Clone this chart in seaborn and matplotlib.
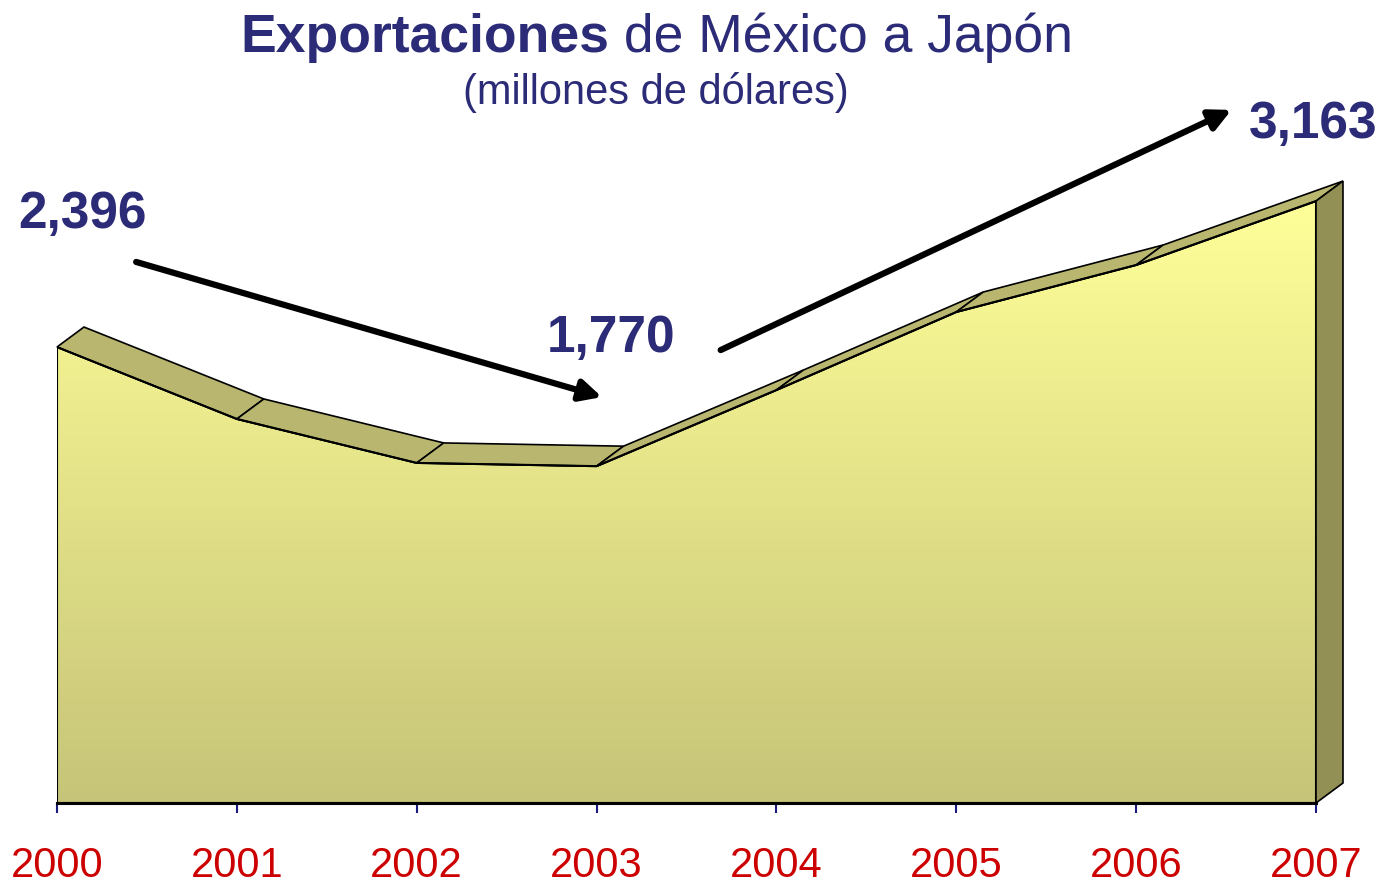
import numpy as np
import matplotlib
matplotlib.use("Agg")
import matplotlib.pyplot as plt
from matplotlib.patches import Polygon
from matplotlib.colors import LinearSegmentedColormap
import seaborn as sns

years = [2000, 2001, 2002, 2003, 2004, 2005, 2006, 2007]
exports = [2396, 2018, 1787, 1770, 2170, 2580, 2827, 3163]
year_labels = [str(y) for y in years]
labelled = {2000: "2,396", 2003: "1,770", 2007: "3,163"}

NAVY = "#2b2b78"
RED = "#cc0000"

sns.set_theme(style="white")
plt.rcParams['font.family'] = ['Liberation Sans', 'DejaVu Sans']

fig = plt.figure(figsize=(13.78, 8.88), dpi=100)
ax = fig.add_axes([57 / 1378, 85 / 888, 1259 / 1378, 703 / 888])
ax.set_xlim(2000, 2007)
ax.set_ylim(0, 3694)

# 3d depth offset (data units)
dx, dy = 0.15, 105

# top edge of the front face
sns.lineplot(x=years, y=exports, ax=ax, color="black", lw=1.5, zorder=4)

# front face with vertical gradient
front = ax.fill_between(years, exports, 0, facecolor="none", edgecolor="black",
                        lw=1.5, zorder=3)
cmap = LinearSegmentedColormap.from_list("face", ["#c6c478", "#ffff99"])
grad = np.linspace(0, 1, 256).reshape(-1, 1)
img = ax.imshow(grad, cmap=cmap, aspect="auto", origin="lower",
                extent=[2000, 2007, 0, max(exports)], zorder=2)
clip = Polygon(list(zip(years, exports)) + [(2007, 0), (2000, 0)], closed=True,
               transform=ax.transData)
img.set_clip_path(clip)

# top strip segments
for i in range(len(years) - 1):
    x0, x1 = years[i], years[i + 1]
    y0, y1 = exports[i], exports[i + 1]
    pts = [(x0, y0), (x1, y1), (x1 + dx, y1 + dy), (x0 + dx, y0 + dy)]
    ax.add_patch(Polygon(pts, closed=True, facecolor="#b9b76f",
                         edgecolor="black", lw=1.2, zorder=3, clip_on=False))

# right side face
side = [(2007, 0), (2007, exports[-1]), (2007 + dx, exports[-1] + dy), (2007 + dx, dy)]
ax.add_patch(Polygon(side, closed=True, facecolor="#929055", edgecolor="black",
                     lw=1.2, zorder=3, clip_on=False))

# value labels
offsets = {2000: (26, 119), 2003: (14, 114), 2007: (-3, 63)}
for yr, txt in labelled.items():
    val = exports[years.index(yr)]
    ax.annotate(txt, xy=(yr, val), xytext=offsets[yr], textcoords="offset pixels",
                ha="center", va="baseline", fontsize=37, fontweight="bold",
                color=NAVY, annotation_clip=False, zorder=6)

# trend arrows
arrow_kw = dict(arrowstyle="-|>", lw=4.5, color="black", mutation_scale=32,
                shrinkA=0, shrinkB=0)
ax.annotate("", xy=(2003.03, 2133), xytext=(2000.44, 2843),
            arrowprops=arrow_kw, annotation_clip=False)
ax.annotate("", xy=(2006.53, 3642), xytext=(2003.69, 2380),
            arrowprops=arrow_kw, annotation_clip=False)

# axes styling
ax.set_xticks(years)
ax.set_xticklabels(year_labels, color=RED, fontsize=30)
ax.set_yticks([])
ax.tick_params(axis="x", bottom=True, length=7, width=1.5, color="#1a1a80", pad=24)
for s in ["left", "right", "top"]:
    ax.spines[s].set_visible(False)
ax.spines["bottom"].set_color("black")
ax.spines["bottom"].set_linewidth(2.2)
ax.spines["bottom"].set_zorder(5)
ax.grid(False)
ax.set_facecolor("none")

# title
fig.text(609 / 1378, (888 - 52) / 888, "Exportaciones", ha="right", va="baseline",
         fontsize=38.5, fontweight="bold", color=NAVY)
fig.text(609 / 1378, (888 - 52) / 888, " de México a Japón", ha="left", va="baseline",
         fontsize=38.5, color=NAVY)
fig.text(656 / 1378, (888 - 104) / 888, "(millones de dólares)", ha="center",
         va="baseline", fontsize=30, color=NAVY)

fig.savefig("out.png", dpi=100)
